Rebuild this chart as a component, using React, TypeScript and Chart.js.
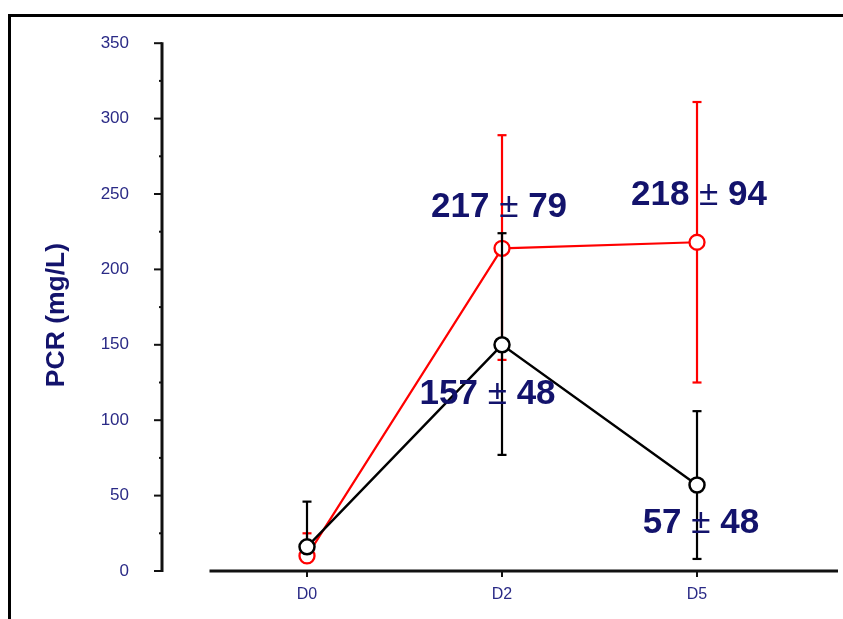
import React, { useEffect, useRef } from "react";
import { Chart, registerables } from "chart.js";

Chart.register(...registerables);

// ---- data ----
const categories = ["D0", "D2", "D5"];
const categoryX = [0, 1, 2];

const redMean = [10, 214, 218];
const redErrUp = [15, 75, 93];
const redErrDown = [0, 74, 93];

const blackMean = [16, 150, 57];
const blackErrUp = [30, 74, 49];
const blackErrDown = [0, 73, 49];

const yMin = 0;
const yMax = 350;
const yStep = 50;
const yMinorStep = 25;

const annotationLabels = ["217 ± 79", "218 ± 94", "157 ± 48", "57 ± 48"];
const annotationX = [0.985, 2.01, 0.926, 2.02];
const annotationY = [235, 243, 111, 25];

const yAxisTitle = "PCR (mg/L)";

// ---- styles ----
const FONT = "'Liberation Sans', Arial, Helvetica, sans-serif";
const NAVY = "#13136c";
const TICK_NAVY = "#2a2a86";
const RED = "#ff0000";
const BLACK = "#000000";

const W = 843;
const H = 619;

const errorSets = [
  { mean: blackMean, up: blackErrUp, down: blackErrDown, color: BLACK },
  { mean: redMean, up: redErrUp, down: redErrDown, color: RED },
];

function seg(ctx: CanvasRenderingContext2D, x1: number, y1: number, x2: number, y2: number) {
  ctx.beginPath();
  ctx.moveTo(x1, y1);
  ctx.lineTo(x2, y2);
  ctx.stroke();
}

const decorPlugin = {
  id: "decor",
  beforeDatasetsDraw(chart: any) {
    const { ctx, chartArea } = chart;
    const xs = chart.scales.x;
    const ys = chart.scales.y;
    ctx.save();
    // frame
    ctx.fillStyle = "#000";
    ctx.fillRect(8, 14, chart.width - 8, 3);
    ctx.fillRect(8, 14, 3, chart.height - 14);

    // y axis
    const ax = chartArea.left;
    const y0 = ys.getPixelForValue(yMin);
    const yTop = ys.getPixelForValue(yMax);
    ctx.strokeStyle = "#111";
    ctx.lineWidth = 3;
    seg(ctx, ax, y0 + 1, ax, yTop - 1);
    ctx.lineWidth = 2;
    for (let v = yMin; v <= yMax; v += yMinorStep) {
      const py = ys.getPixelForValue(v);
      const len = v % yStep === 0 ? 8 : 3;
      seg(ctx, ax - len, py, ax, py);
    }

    // x axis (detached)
    const xStart = xs.getPixelForValue(-0.5);
    ctx.lineWidth = 3;
    seg(ctx, xStart, y0, chartArea.right, y0);
    ctx.lineWidth = 2;
    categoryX.forEach((c) => {
      const px = xs.getPixelForValue(c);
      seg(ctx, px, y0, px, y0 + 6);
    });

    // y title
    ctx.translate(57, 315);
    ctx.rotate(-Math.PI / 2);
    ctx.fillStyle = NAVY;
    ctx.font = `bold 26.5px ${FONT}`;
    ctx.textAlign = "center";
    ctx.textBaseline = "middle";
    ctx.fillText(yAxisTitle, 0, 0);
    ctx.restore();
  },
  beforeDatasetDraw(chart: any, args: any) {
    const set = errorSets[args.index];
    if (!set) return;
    const { ctx } = chart;
    const xs = chart.scales.x;
    const ys = chart.scales.y;
    ctx.save();
    ctx.strokeStyle = set.color;
    ctx.lineWidth = 2.2;
    set.mean.forEach((m, i) => {
      const px = xs.getPixelForValue(categoryX[i]);
      const pm = ys.getPixelForValue(m);
      if (set.up[i] > 0) {
        const pu = ys.getPixelForValue(m + set.up[i]);
        seg(ctx, px, pm, px, pu);
        seg(ctx, px - 4.5, pu, px + 4.5, pu);
      }
      if (set.down[i] > 0) {
        const pd = ys.getPixelForValue(m - set.down[i]);
        seg(ctx, px, pm, px, pd);
        seg(ctx, px - 4.5, pd, px + 4.5, pd);
      }
    });
    ctx.restore();
  },
  afterDatasetsDraw(chart: any) {
    const { ctx } = chart;
    const xs = chart.scales.x;
    const ys = chart.scales.y;
    ctx.save();
    ctx.fillStyle = NAVY;
    ctx.textBaseline = "alphabetic";
    ctx.textAlign = "left";
    const bold = `bold 35px ${FONT}`;
    const reg = `35px ${FONT}`;
    annotationLabels.forEach((label, i) => {
      const [a, b] = label.split(" ± ");
      const pm = " ± ";
      ctx.font = bold;
      const wa = ctx.measureText(a).width;
      const wb = ctx.measureText(b).width;
      ctx.font = reg;
      const wpm = ctx.measureText(pm).width;
      const total = wa + wpm + wb;
      const cx = xs.getPixelForValue(annotationX[i]);
      const by = ys.getPixelForValue(annotationY[i]);
      let x = cx - total / 2;
      ctx.font = bold;
      ctx.fillText(a, x, by);
      x += wa;
      ctx.font = reg;
      ctx.fillText(pm, x, by);
      x += wpm;
      ctx.font = bold;
      ctx.fillText(b, x, by);
    });
    ctx.restore();
  },
};

export default function App() {
  const ref = useRef<HTMLCanvasElement | null>(null);

  useEffect(() => {
    if (!ref.current) return;
    const toPoints = (arr: number[]) => arr.map((v, i) => ({ x: categoryX[i], y: v }));
    const chart = new Chart(ref.current, {
      type: "line",
      data: {
        datasets: [
          {
            label: "black",
            data: toPoints(blackMean),
            borderColor: BLACK,
            borderWidth: 2.4,
            pointRadius: 7.5,
            pointBorderWidth: 2.5,
            pointBackgroundColor: "#ffffff",
            pointBorderColor: BLACK,
            tension: 0,
            clip: false as any,
          },
          {
            label: "red",
            data: toPoints(redMean),
            borderColor: RED,
            borderWidth: 2.2,
            pointRadius: 7.5,
            pointBorderWidth: 2.3,
            pointBackgroundColor: "#ffffff",
            pointBorderColor: RED,
            tension: 0,
            clip: false as any,
          },
        ],
      },
      options: {
        responsive: false,
        animation: false,
        layout: { autoPadding: false, padding: { left: 0, top: 43, right: 5, bottom: 0 } },
        plugins: {
          legend: { display: false },
          tooltip: { enabled: false },
        },
        scales: {
          x: {
            type: "linear",
            min: -0.7436,
            max: 2.723,
            grid: { display: false, drawTicks: false },
            border: { display: false },
            afterBuildTicks: (scale: any) => {
              scale.ticks = categoryX.map((v) => ({ value: v }));
            },
            afterFit: (scale: any) => {
              scale.height = 48;
              scale.paddingLeft = 0;
              scale.paddingRight = 0;
            },
            ticks: {
              padding: 14,
              color: TICK_NAVY,
              font: { family: FONT, size: 16 },
              callback: (v: any) => {
                const i = categoryX.indexOf(Number(v));
                return i >= 0 ? categories[i] : "";
              },
              maxRotation: 0,
              autoSkip: false,
            },
          },
          y: {
            type: "linear",
            min: yMin,
            max: yMax,
            grid: { display: false, drawTicks: false },
            border: { display: false },
            afterFit: (scale: any) => {
              scale.width = 162;
            },
            ticks: {
              stepSize: yStep,
              padding: 33,
              color: TICK_NAVY,
              font: { family: FONT, size: 17 },
            },
          },
        },
      },
      plugins: [decorPlugin],
    });
    return () => chart.destroy();
  }, []);

  return (
    <div style={{ position: "absolute", left: 0, top: 0, width: W, height: H, background: "#fff" }}>
      <canvas ref={ref} width={W} height={H} style={{ display: "block" }} />
    </div>
  );
}
